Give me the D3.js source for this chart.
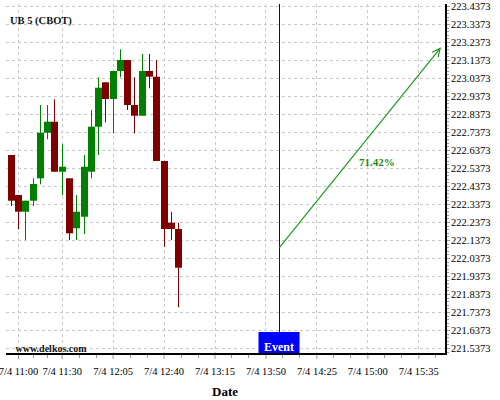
<!DOCTYPE html>
<html>
<head>
<meta charset="utf-8">
<script src="https://cdn.jsdelivr.net/npm/d3@7"></script>
<style>
  html, body { margin: 0; padding: 0; background: #fff; }
  svg { display: block; }
  text { font-family: "Liberation Serif", "Times New Roman", serif; }
</style>
</head>
<body>
<svg id="chart" width="500" height="400"></svg>
<script>
// ---- data ----
const title = "UB 5 (CBOT)";
const watermark = "www.delkos.com";
const xAxisTitle = "Date";
const times = ["10:55","11:00","11:05","11:10","11:15","11:20","11:25","11:30","11:35","11:40","11:45","11:50",
               "11:55","12:00","12:05","12:10","12:15","12:20","12:25","12:30","12:35","12:40","12:45","12:50"];
const opens  = [222.6095,222.3873,222.2945,222.3556,222.4800,222.7334,222.7945,222.5167,222.4800,222.2023,222.2667,222.5167,
                222.7667,223.0134,222.9206,223.0762,223.1373,222.8873,222.8278,223.0762,223.0445,222.5762,222.2334,222.1984];
const highs  = [222.6095,222.3873,222.3556,222.4800,222.8873,222.8873,222.9189,222.6689,222.4800,222.3873,222.6095,222.8595,
                223.0412,223.0134,223.0762,223.1967,223.1373,223.0412,223.1706,223.1706,223.1373,222.5762,222.2945,222.2334];
const lows   = [222.3262,222.1967,222.1373,222.3262,222.4467,222.6967,222.5167,222.3873,222.1373,222.1373,222.1706,222.4800,
                222.6095,222.7912,222.7300,223.0412,222.8595,222.7300,222.8278,222.9800,222.5762,222.1000,222.1373,221.7634];
const closes = [222.3556,222.2945,222.3556,222.4484,222.7334,222.7945,222.5167,222.5445,222.1745,222.2945,222.5445,222.7667,
                222.9834,222.9206,223.0762,223.1373,222.8873,222.8278,223.0762,223.0445,222.5762,222.1984,222.1984,221.9834];
const xTickTimes = ["11:00","11:30","12:05","12:40","13:15","13:50","14:25","15:00","15:35"];
const yTicks = [221.5373,221.6373,221.7373,221.8373,221.9373,222.0373,222.1373,222.2373,222.3373,222.4373,
                222.5373,222.6373,222.7373,222.8373,222.9373,223.0373,223.1373,223.2373,223.3373,223.4373];
const eventTime = "14:00";
const eventLabel = "Event";
const arrowStart = {time: "14:00", price: 222.0967};
const arrowEnd   = {time: "15:50", price: 223.2017};
const arrowLabel = "71.42%";

// ---- helpers ----
const parseT = s => { const [h, m] = s.split(":").map(Number); return new Date(2000, 6, 4, h, m); };
const fmtTick = d3.timeFormat("%-m/%-d %H:%M");

// ---- layout ----
const plotL = 6, plotR = 446, plotT = 4, plotB = 354;
const svg = d3.select("#chart");

const x = d3.scaleTime().domain([parseT("11:00"), parseT("15:35")]).range([18, 418.3]);
const y = d3.scaleLinear().domain([221.5373, 223.4373]).range([348, 6]);

// grid
const grid = svg.append("g").attr("stroke", "#c8c8c8").attr("stroke-width", 1).attr("stroke-dasharray", "3,3");
grid.selectAll("line.h").data(yTicks).join("line")
  .attr("x1", plotL).attr("x2", plotR)
  .attr("y1", d => Math.round(y(d)) + 0.5).attr("y2", d => Math.round(y(d)) + 0.5);
grid.selectAll("line.v").data(xTickTimes).join("line")
  .attr("x1", d => Math.round(x(parseT(d))) + 0.5).attr("x2", d => Math.round(x(parseT(d))) + 0.5)
  .attr("y1", plotT).attr("y2", plotB);

// candles
const bw = 7;
const candles = svg.append("g");
times.forEach((t, i) => {
  const cx = Math.round(x(parseT(t))) ;
  const up = closes[i] >= opens[i];
  const col = up ? "#008000" : "#800000";
  candles.append("line")
    .attr("x1", cx + 0.5).attr("x2", cx + 0.5)
    .attr("y1", y(highs[i])).attr("y2", y(lows[i]))
    .attr("stroke", col).attr("stroke-width", 1);
  const top = y(Math.max(opens[i], closes[i]));
  const bot = y(Math.min(opens[i], closes[i]));
  candles.append("rect")
    .attr("x", cx + 0.5 - bw / 2).attr("width", bw)
    .attr("y", top).attr("height", Math.max(1, bot - top))
    .attr("fill", col);
});

// event line and box
const ex = Math.round(x(parseT(eventTime))) - 0.5;
svg.append("line").attr("x1", ex).attr("x2", ex).attr("y1", plotT).attr("y2", plotB)
  .attr("stroke", "#0000cc").attr("stroke-width", 1);
svg.append("rect").attr("x", ex - 21).attr("y", 332).attr("width", 41).attr("height", plotB - 332)
  .attr("fill", "#0000ff");
svg.append("text").attr("x", ex - 0.5).attr("y", 350.5).attr("text-anchor", "middle")
  .attr("fill", "#fff").attr("font-weight", "bold").attr("font-size", "12px").text(eventLabel);

// arrow
const ax1 = x(parseT(arrowStart.time)) - 0.5, ay1 = y(arrowStart.price);
const ax2 = x(parseT(arrowEnd.time)), ay2 = y(arrowEnd.price);
svg.append("line").attr("x1", ax1).attr("y1", ay1).attr("x2", ax2).attr("y2", ay2)
  .attr("stroke", "#229922").attr("stroke-width", 1.2);
const ang = Math.atan2(ay2 - ay1, ax2 - ax1);
const hl = 9, ha = 0.45;
svg.append("path")
  .attr("d", `M${ax2 - hl * Math.cos(ang - ha)},${ay2 - hl * Math.sin(ang - ha)} L${ax2},${ay2} L${ax2 - hl * Math.cos(ang + ha)},${ay2 - hl * Math.sin(ang + ha)}`)
  .attr("fill", "none").attr("stroke", "#229922").attr("stroke-width", 1.2);
svg.append("text")
  .attr("x", (ax1 + ax2) / 2 + 17).attr("y", (ay1 + ay2) / 2 + 18)
  .attr("text-anchor", "middle").attr("fill", "#1a8a1a").attr("font-weight", "bold").attr("font-size", "11px")
  .text(arrowLabel);

// x axis
svg.append("line").attr("x1", plotL).attr("x2", plotR + 1).attr("y1", plotB).attr("y2", plotB)
  .attr("stroke", "#000").attr("stroke-width", 2);
const xMinor = [];
for (let i = 0; i < xTickTimes.length; i++) {
  const a = parseT(xTickTimes[i]);
  const b = i + 1 < xTickTimes.length ? parseT(xTickTimes[i + 1]) : new Date(+a + 35 * 60000);
  for (let k = 1; k < 3; k++) xMinor.push(new Date(+a + (b - a) * k / 3));
}
const xAx = svg.append("g").attr("transform", `translate(0,${plotB + 1})`)
  .call(d3.axisBottom(x).tickValues(xTickTimes.map(parseT)).tickFormat(fmtTick).tickSize(4).tickPadding(9));
xAx.select(".domain").remove();
xAx.selectAll("text").attr("font-family", "Liberation Serif, serif").attr("font-size", "10.5px").attr("fill", "#000");
xAx.selectAll("line").attr("stroke", "#999");
svg.append("g").selectAll("line").data(xMinor.filter(d => x(d) < plotR)).join("line")
  .attr("x1", d => Math.round(x(d)) + 0.5).attr("x2", d => Math.round(x(d)) + 0.5)
  .attr("y1", plotB + 1).attr("y2", plotB + 4).attr("stroke", "#999");

// y axis (right)
svg.append("line").attr("x1", plotR).attr("x2", plotR).attr("y1", plotT).attr("y2", plotB + 1)
  .attr("stroke", "#000").attr("stroke-width", 2);
const yMinor = [];
for (let i = 0; i < yTicks.length; i++) {
  for (let k = 1; k < 5; k++) {
    const v = yTicks[i] + 0.1 * k / 5;
    if (y(v) > plotT) yMinor.push(v);
  }
  for (let k = 1; k < 5; k++) { if (i === 0) { const v = yTicks[0] - 0.1 * k / 5; if (y(v) < plotB) yMinor.push(v); } }
}
const yAx = svg.append("g").attr("transform", `translate(${plotR + 1},0)`)
  .call(d3.axisRight(y).tickValues(yTicks).tickFormat(d3.format(".4f")).tickSize(3).tickPadding(1));
yAx.select(".domain").remove();
yAx.selectAll("text").attr("font-family", "Liberation Serif, serif").attr("font-size", "10.5px").attr("fill", "#000");
yAx.selectAll("line").attr("stroke", "#999");
svg.append("g").selectAll("line").data(yMinor).join("line")
  .attr("x1", plotR + 1).attr("x2", plotR + 3)
  .attr("y1", d => Math.round(y(d)) + 0.5).attr("y2", d => Math.round(y(d)) + 0.5).attr("stroke", "#999");

// texts
svg.append("text").attr("x", 10).attr("y", 24).attr("font-weight", "bold").attr("font-size", "10.5px")
  .attr("fill", "#111").text(title);
svg.append("text").attr("x", 15.5).attr("y", 352).attr("font-weight", "bold").attr("font-size", "10px")
  .attr("fill", "#111").text(watermark);
svg.append("text").attr("x", 225).attr("y", 396).attr("text-anchor", "middle").attr("font-weight", "bold")
  .attr("font-size", "13px").attr("fill", "#000").text(xAxisTitle);
</script>
</body>
</html>
